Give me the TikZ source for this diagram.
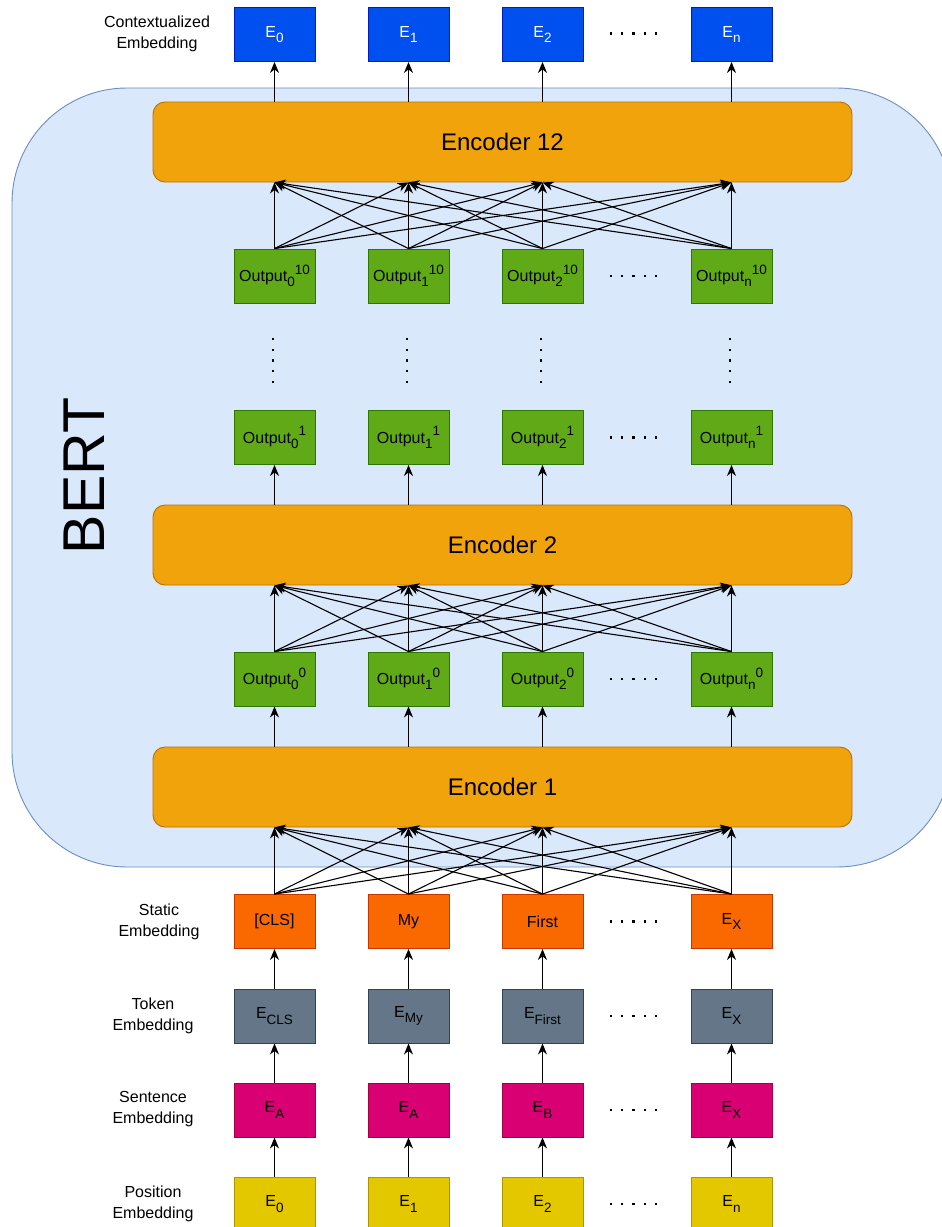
\documentclass[tikz,border=0pt]{standalone}
\usepackage{fontspec}
\setmainfont{Liberation Sans}
\usetikzlibrary{arrows.meta,positioning}

\definecolor{bertfill}{HTML}{DAE8FC}
\definecolor{bertdraw}{HTML}{6C8EBF}
\definecolor{encfill}{HTML}{F0A30A}
\definecolor{encdraw}{HTML}{BD7000}
\definecolor{bluefill}{HTML}{0050EF}
\definecolor{bluedraw}{HTML}{001DBC}
\definecolor{greenfill}{HTML}{60A917}
\definecolor{greendraw}{HTML}{2D7600}
\definecolor{orangefill}{HTML}{FA6800}
\definecolor{orangedraw}{HTML}{C73500}
\definecolor{slatefill}{HTML}{647687}
\definecolor{slatedraw}{HTML}{314354}
\definecolor{pinkfill}{HTML}{D80073}
\definecolor{pinkdraw}{HTML}{A50040}
\definecolor{yellowfill}{HTML}{E3C800}
\definecolor{yellowdraw}{HTML}{B09500}

% lowered / raised indices in a slightly reduced size
\newcommand\lowidx[1]{\raisebox{-0.32em}{\fontsize{13.5}{14}\selectfont #1}}
\newcommand\highidx[1]{\raisebox{0.45em}{\fontsize{13.5}{14}\selectfont #1}}

\tikzset{
  cell/.style={rectangle, minimum width=81pt, minimum height=54pt, inner sep=0pt,
    line width=0.9pt, font=\fontsize{16}{19}\selectfont},
  ctxcell/.style={cell, fill=bluefill, draw=bluedraw, text=white},
  outcell/.style={cell, fill=greenfill, draw=greendraw, text=black},
  statcell/.style={cell, fill=orangefill, draw=orangedraw, text=black},
  tokcell/.style={cell, fill=slatefill, draw=slatedraw, text=black},
  sentcell/.style={cell, fill=pinkfill, draw=pinkdraw, text=black},
  poscell/.style={cell, fill=yellowfill, draw=yellowdraw, text=black},
  encoder/.style={rectangle, rounded corners=12pt, fill=encfill, draw=encdraw, line width=0.9pt,
    minimum width=699pt, minimum height=80pt, font=\fontsize{24}{28}\selectfont},
  rowlabel/.style={align=center, font=\fontsize{16}{21}\selectfont, inner sep=0pt},
  arr/.style={-{Stealth[length=11pt,width=9pt,inset=3.5pt]}, line width=1.1pt, black},
  dotmark/.style={fill=black},
}

\begin{document}
\begin{tikzpicture}[x=1pt,y=-1pt]
\useasboundingbox (0,0) rectangle (942,1227);
\clip (0,0) rectangle (942,1227);

% BERT container
\draw[fill=bertfill, draw=bertdraw, line width=0.9pt, rounded corners=115pt]
  (12,88) rectangle (952,867);
\node[rotate=90, font=\fontsize{59}{60}\selectfont] (bert) at (84,476) {BERT};

% encoders
\node[encoder] (enc12) at (502.5,142) {Encoder 12};
\node[encoder] (enc2)  at (502.5,545) {Encoder 2};
\node[encoder] (enc1)  at (502.5,787) {Encoder 1};

% column centres
\def\ca{274.5}\def\cb{408.5}\def\cc{542.5}\def\cd{731.5}

% contextualized embeddings
\node[ctxcell] (ctx0) at (\ca,34.5) {E\lowidx{0}};
\node[ctxcell] (ctx1) at (\cb,34.5) {E\lowidx{1}};
\node[ctxcell] (ctx2) at (\cc,34.5) {E\lowidx{2}};
\node[ctxcell] (ctx3) at (\cd,34.5) {E\lowidx{n}};

% layer outputs 10
\node[outcell] (o10-0) at (\ca,276) {Output\lowidx{0}\highidx{10}};
\node[outcell] (o10-1) at (\cb,276) {Output\lowidx{1}\highidx{10}};
\node[outcell] (o10-2) at (\cc,276) {Output\lowidx{2}\highidx{10}};
\node[outcell] (o10-3) at (\cd,276) {Output\lowidx{n}\highidx{10}};

% layer outputs 1
\node[outcell] (o1-0) at (\ca,437.5) {Output\lowidx{0}\highidx{1}};
\node[outcell] (o1-1) at (\cb,437.5) {Output\lowidx{1}\highidx{1}};
\node[outcell] (o1-2) at (\cc,437.5) {Output\lowidx{2}\highidx{1}};
\node[outcell] (o1-3) at (\cd,437.5) {Output\lowidx{n}\highidx{1}};

% layer outputs 0
\node[outcell] (o0-0) at (\ca,679) {Output\lowidx{0}\highidx{0}};
\node[outcell] (o0-1) at (\cb,679) {Output\lowidx{1}\highidx{0}};
\node[outcell] (o0-2) at (\cc,679) {Output\lowidx{2}\highidx{0}};
\node[outcell] (o0-3) at (\cd,679) {Output\lowidx{n}\highidx{0}};

% static embeddings
\node[statcell] (st0) at (\ca,921.5) {[CLS]};
\node[statcell] (st1) at (\cb,921.5) {My};
\node[statcell] (st2) at (\cc,921.5) {First};
\node[statcell] (st3) at (\cd,921.5) {E\lowidx{X}};

% token embeddings
\node[tokcell] (tk0) at (\ca,1016) {E\lowidx{CLS}};
\node[tokcell] (tk1) at (\cb,1016) {E\lowidx{My}};
\node[tokcell] (tk2) at (\cc,1016) {E\lowidx{First}};
\node[tokcell] (tk3) at (\cd,1016) {E\lowidx{X}};

% sentence embeddings
\node[sentcell] (se0) at (\ca,1110) {E\lowidx{A}};
\node[sentcell] (se1) at (\cb,1110) {E\lowidx{A}};
\node[sentcell] (se2) at (\cc,1110) {E\lowidx{B}};
\node[sentcell] (se3) at (\cd,1110) {E\lowidx{X}};

% position embeddings
\node[poscell] (po0) at (\ca,1204) {E\lowidx{0}};
\node[poscell] (po1) at (\cb,1204) {E\lowidx{1}};
\node[poscell] (po2) at (\cc,1204) {E\lowidx{2}};
\node[poscell] (po3) at (\cd,1204) {E\lowidx{n}};

% row labels
\node[rowlabel] (lctx)  at (157,34)   {Contextualized\\Embedding};
\node[rowlabel] (lstat) at (159,921.5) {Static\\Embedding};
\node[rowlabel] (ltok)  at (153,1015.5) {Token\\Embedding};
\node[rowlabel] (lsent) at (153,1109.5) {Sentence\\Embedding};
\node[rowlabel] (lpos)  at (153,1203.5) {Position\\Embedding};

% ellipsis dots between the third and last columns
\foreach \yy in {33.5,276,437.5,679,921.5,1016,1110,1204}
  \foreach \k in {0,...,4}
    \fill[dotmark] (611+11.25*\k-1.2,\yy-1.2) rectangle ++(2.4,2.4);

% vertical ellipsis between the output layers
\foreach \xx in {\ca,\cb,\cc,\cd}
  \foreach \k in {0,...,4}
    \fill[dotmark] (\xx-1.8-1.2,339+10.75*\k-1.2) rectangle ++(2.4,2.4);

% straight connectors
\foreach \i in {0,1,2,3} {
  \draw[arr] (enc12.north -| ctx\i.south) -- (ctx\i.south);
  \draw[arr] (enc2.north -| o1-\i.south) -- (o1-\i.south);
  \draw[arr] (enc1.north -| o0-\i.south) -- (o0-\i.south);
  \draw[arr] (tk\i.north) -- (st\i.south);
  \draw[arr] (se\i.north) -- (tk\i.south);
  \draw[arr] (po\i.north) -- (se\i.south);
}

% fully connected connectors into each encoder
\foreach \i in {0,1,2,3}
  \foreach \j in {0,1,2,3} {
    \draw[arr] (o10-\i.north) -- (enc12.south -| o10-\j.north);
    \draw[arr] (o0-\i.north) -- (enc2.south -| o0-\j.north);
    \draw[arr] (st\i.north) -- (enc1.south -| st\j.north);
  }
\end{tikzpicture}
\end{document}
